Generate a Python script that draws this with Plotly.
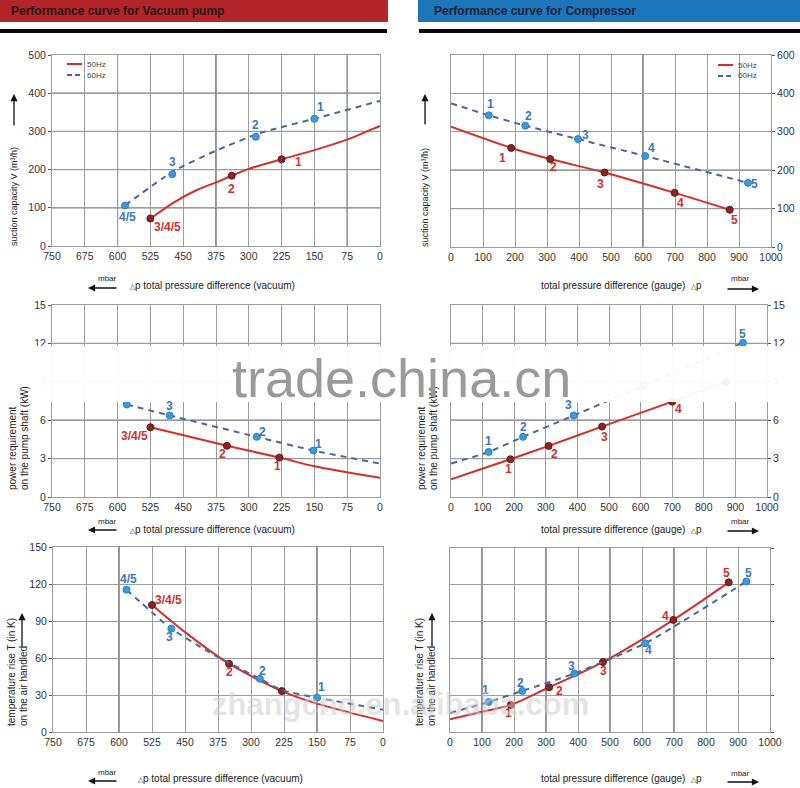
import plotly.graph_objects as go

W, H = 800, 788

# ---------------- data ----------------
vac_ticks = [750, 675, 600, 525, 450, 375, 300, 225, 150, 75, 0]
gauge_ticks = [0, 100, 200, 300, 400, 500, 600, 700, 800, 900, 1000]
cap_ticks = [0, 100, 200, 300, 400, 500]
cap_ticktext_left = ["0", "100", "200", "300", "400", "500"]
cap_ticktext_right = ["0", "100", "200", "300", "400", "600"]
pow_ticks = [0, 3, 6, 9, 12, 15]
temp_ticks = [0, 30, 60, 90, 120, 150]

# Vacuum pump - suction capacity (m3/h) vs vacuum (mbar)
vs50_curve_x = [525, 470, 420, 376, 339, 300, 225, 150, 74, 30, 0]
vs50_curve_y = [72, 115, 146, 166, 184, 202, 227, 251, 279, 300, 314]
vs50_pts_x = [525, 339, 225]
vs50_pts_y = [72, 184, 227]
vs50_labels = ["3/4/5", "2", "1"]
vs60_curve_x = [583, 475, 376, 284, 246, 150, 0]
vs60_curve_y = [106, 194, 249, 292, 305, 333, 380]
vs60_pts_x = [583, 475, 284, 150]
vs60_pts_y = [106, 188, 286, 333]
vs60_labels = ["4/5", "3", "2", "1"]

# Compressor - suction capacity vs gauge pressure
cs50_curve_x = [0, 188, 310, 480, 699, 871]
cs50_curve_y = [313, 258, 229, 194, 141, 97]
cs50_pts_x = [188, 310, 480, 699, 871]
cs50_pts_y = [258, 229, 194, 141, 97]
cs50_labels = ["1", "2", "3", "4", "5"]
cs60_curve_x = [0, 118, 232, 397, 607, 928]
cs60_curve_y = [374, 343, 316, 281, 237, 167]
cs60_pts_x = [118, 232, 397, 607, 928]
cs60_pts_y = [343, 316, 281, 237, 167]
cs60_labels = ["1", "2", "3", "4", "5"]

# Vacuum pump - power requirement (kW)
vp50_curve_x = [525, 350, 230, 150, 0]
vp50_curve_y = [5.45, 4.0, 3.08, 2.4, 1.5]
vp50_pts_x = [525, 350, 230]
vp50_pts_y = [5.45, 4.0, 3.08]
vp50_labels = ["3/4/5", "2", "1"]
vp60_curve_x = [579, 481, 282, 152, 0]
vp60_curve_y = [7.23, 6.37, 4.70, 3.63, 2.61]
vp60_pts_x = [579, 481, 282, 152]
vp60_pts_y = [7.23, 6.37, 4.70, 3.63]
vp60_labels = ["4/5", "3", "2", "1"]

# Compressor - power requirement (kW)
cp50_curve_x = [0, 188, 309, 478, 700, 870]
cp50_curve_y = [1.38, 2.95, 3.99, 5.5, 7.45, 9.0]
cp50_pts_x = [188, 309, 478, 700, 870]
cp50_pts_y = [2.95, 3.99, 5.5, 7.45, 9.0]
cp50_labels = ["1", "2", "3", "4", "5"]
cp60_curve_x = [0, 119, 228, 388, 610, 924]
cp60_curve_y = [2.61, 3.52, 4.70, 6.37, 8.7, 12.05]
cp60_pts_x = [119, 228, 388, 610, 924]
cp60_pts_y = [3.52, 4.70, 6.37, 8.7, 12.05]
cp60_labels = ["1", "2", "3", "4", "5"]

# Vacuum pump - temperature rise (K)
vt50_curve_x = [525, 450, 350, 230, 150, 75, 0]
vt50_curve_y = [103, 81, 55.4, 33.2, 23, 15.7, 8.9]
vt50_pts_x = [525, 350, 230]
vt50_pts_y = [103, 55.4, 33.2]
vt50_labels = ["3/4/5", "2", ""]
vt60_curve_x = [583, 481, 396, 350, 280, 230, 150, 0]
vt60_curve_y = [115.4, 83.8, 65, 56, 43.2, 34, 27.8, 18.1]
vt60_pts_x = [583, 481, 280, 150]
vt60_pts_y = [115.4, 83.8, 43.2, 27.8]
vt60_labels = ["4/5", "3", "2", "1"]

# Compressor - temperature rise (K)
ct50_curve_x = [0, 100, 190, 310, 478, 698, 871]
ct50_curve_y = [10.4, 16.5, 22, 36.5, 57, 91.4, 122]
ct50_pts_x = [190, 310, 478, 698, 871]
ct50_pts_y = [22, 36.5, 57, 91.4, 122]
ct50_labels = ["1", "2", "3", "4", "5"]
ct60_curve_x = [0, 121, 226, 389, 610, 926]
ct60_curve_y = [15.5, 24.5, 33.5, 47.7, 72.3, 122.7]
ct60_pts_x = [121, 226, 389, 610, 926]
ct60_pts_y = [24.5, 33.5, 47.7, 72.3, 122.7]
ct60_labels = ["1", "2", "3", "4", "5"]

# ---------------- styles / layout ----------------
RED = "#d3302b"
RED_PT = "#8c2626"
BLUE_LINE = "#4a6796"
BLUE_PT = "#3b9ade"
RED_TXT = "#d3302b"
BLUE_TXT = "#3c76bb"
GRID = "#9c9c9c"
DARK = "#222222"
FONT = "Liberation Sans, Arial, sans-serif"

def PX(p):
    return p / W

def PY(p):
    return 1 - p / H

panels = {
    1: dict(x0=52, x1=380, y0=55, y1=246, xr=[750, 0], xt=vac_ticks, yr=[0, 500], yt=cap_ticks,
            ytt=cap_ticktext_left, side="left", labels=True,
            dv=[600, 375, 75], dh=[100, 200, 300, 400]),
    2: dict(x0=451, x1=771, y0=55, y1=247, xr=[0, 1000], xt=gauge_ticks, yr=[0, 500], yt=cap_ticks,
            ytt=cap_ticktext_right, side="right", labels=True, dv=[600], dh=[100, 200]),
    3: dict(x0=52, x1=380, y0=305, y1=497, xr=[750, 0], xt=vac_ticks, yr=[0, 15], yt=pow_ticks,
            ytt=[str(v) for v in pow_ticks], side="left", labels=True, dv=[], dh=[3, 6, 12]),
    4: dict(x0=451, x1=767, y0=305, y1=497, xr=[0, 1000], xt=gauge_ticks, yr=[0, 15], yt=pow_ticks,
            ytt=[str(v) for v in pow_ticks], side="right", labels=True, dv=[], dh=[3, 6, 12]),
    5: dict(x0=53, x1=383, y0=547, y1=732, xr=[750, 0], xt=vac_ticks, yr=[0, 150], yt=temp_ticks,
            ytt=[str(v) for v in temp_ticks], side="left", labels=True, dv=[600, 150], dh=[]),
    6: dict(x0=450, x1=770, y0=548, y1=732, xr=[0, 1000], xt=gauge_ticks, yr=[0, 150], yt=temp_ticks,
            ytt=[str(v) for v in temp_ticks], side="right", labels=False, dv=[100, 300, 500, 700], dh=[]),
}

series = {
    1: [(vs50_curve_x, vs50_curve_y, vs50_pts_x, vs50_pts_y, vs50_labels, "r"),
        (vs60_curve_x, vs60_curve_y, vs60_pts_x, vs60_pts_y, vs60_labels, "b")],
    2: [(cs50_curve_x, cs50_curve_y, cs50_pts_x, cs50_pts_y, cs50_labels, "r"),
        (cs60_curve_x, cs60_curve_y, cs60_pts_x, cs60_pts_y, cs60_labels, "b")],
    3: [(vp50_curve_x, vp50_curve_y, vp50_pts_x, vp50_pts_y, vp50_labels, "r"),
        (vp60_curve_x, vp60_curve_y, vp60_pts_x, vp60_pts_y, vp60_labels, "b")],
    4: [(cp50_curve_x, cp50_curve_y, cp50_pts_x, cp50_pts_y, cp50_labels, "r"),
        (cp60_curve_x, cp60_curve_y, cp60_pts_x, cp60_pts_y, cp60_labels, "b")],
    5: [(vt50_curve_x, vt50_curve_y, vt50_pts_x, vt50_pts_y, vt50_labels, "r"),
        (vt60_curve_x, vt60_curve_y, vt60_pts_x, vt60_pts_y, vt60_labels, "b")],
    6: [(ct50_curve_x, ct50_curve_y, ct50_pts_x, ct50_pts_y, ct50_labels, "r"),
        (ct60_curve_x, ct60_curve_y, ct60_pts_x, ct60_pts_y, ct60_labels, "b")],
}

# label offsets in pixels (dx, dy-down) for each point label
offsets = {
    (1, "r"): [(17, 9), (0, 13), (17, 3)],
    (1, "b"): [(2, 11), (0, -12), (0, -12), (6, -12)],
    (2, "r"): [(-9, 10), (3, 8), (-4, 12), (6, 10), (5, 10)],
    (2, "b"): [(2, -11), (3, -10), (7, -4), (6, -8), (7, 1)],
    (3, "r"): [(-16, 9), (-4, 8), (-2, 8)],
    (3, "b"): [(-2, -12), (0, -9), (6, -5), (5, -7)],
    (4, "r"): [(-2, 10), (6, 8), (2, 10), (6, 7), (6, 8)],
    (4, "b"): [(0, -11), (0, -10), (-5, -10), (0, -10), (0, -9)],
    (5, "r"): [(16, -5), (0, 8), (0, 8)],
    (5, "b"): [(2, -11), (-2, 8), (3, -8), (4, -11)],
    (6, "r"): [(-2, 8), (10, 4), (1, 9), (-8, -4), (-2, -9)],
    (6, "b"): [(-3, -12), (-2, -8), (-3, -7), (3, 7), (2, -8)],
}

BAND_TOP, BAND_BOT = 346, 402

fig = go.Figure()
layout = dict(width=W, height=H, margin=dict(l=0, r=0, t=0, b=0, pad=0, autoexpand=False),
              autosize=False,
              paper_bgcolor="white", plot_bgcolor="white", showlegend=False,
              font=dict(family=FONT, color="#333"))
shapes = []
annotations = []

for n, p in panels.items():
    sfx = "" if n == 1 else str(n)
    xa = dict(domain=[PX(p["x0"]), PX(p["x1"])], range=p["xr"], anchor="y" + sfx,
              tickvals=p["xt"], ticktext=[str(v) for v in p["xt"]], automargin=False,
              showgrid=True, gridcolor=GRID, gridwidth=1, zeroline=False,
              showline=True, linecolor=GRID, mirror=True,
              ticks="", tickfont=dict(size=10.5, color="#333", family=FONT), ticklen=3)
    ya = dict(domain=[PY(p["y1"]), PY(p["y0"])], range=p["yr"], anchor="x" + sfx,
              tickvals=p["yt"], ticktext=p["ytt"], side=p["side"], automargin=False,
              showgrid=True, gridcolor=GRID, gridwidth=1, zeroline=False,
              showline=True, linecolor=GRID, mirror=True,
              ticks="outside", ticklen=3, tickcolor="#555",
              showticklabels=p["labels"],
              tickfont=dict(size=10.5, color="#333", family=FONT))
    layout["xaxis" + sfx] = xa
    layout["yaxis" + sfx] = ya

    for v in p["dv"]:
        shapes.append(dict(type="line", xref="x" + sfx, yref="y" + sfx + " domain",
                           x0=v, x1=v, y0=0, y1=1, line=dict(color=DARK, width=1), layer="below"))
    for v in p["dh"]:
        shapes.append(dict(type="line", xref="x" + sfx + " domain", yref="y" + sfx,
                           x0=0, x1=1, y0=v, y1=v, line=dict(color=DARK, width=1), layer="below"))

    ylo, yhi = p["yr"]
    for cx, cy, ptx, pty, labs, col in series[n]:
        if col == "r":
            fig.add_trace(go.Scatter(x=cx, y=cy, xaxis="x" + sfx, yaxis="y" + sfx, mode="lines",
                                     line=dict(color=RED, width=2, shape="spline", smoothing=0.8),
                                     hoverinfo="skip"))
            fig.add_trace(go.Scatter(x=ptx, y=pty, xaxis="x" + sfx, yaxis="y" + sfx, mode="markers",
                                     marker=dict(color=RED_PT, size=7, line=dict(color="#5e1515", width=1)),
                                     hoverinfo="skip"))
            tcol = RED_TXT
        else:
            fig.add_trace(go.Scatter(x=cx, y=cy, xaxis="x" + sfx, yaxis="y" + sfx, mode="lines",
                                     line=dict(color=BLUE_LINE, width=2, dash="6px,5px",
                                               shape="spline", smoothing=0.6),
                                     hoverinfo="skip"))
            fig.add_trace(go.Scatter(x=ptx, y=pty, xaxis="x" + sfx, yaxis="y" + sfx, mode="markers",
                                     marker=dict(color=BLUE_PT, size=7, line=dict(color="#2f7fbf", width=1)),
                                     hoverinfo="skip"))
            tcol = BLUE_TXT
        for (xv, yv, lab, (dx, dy)) in zip(ptx, pty, labs, offsets[(n, col)]):
            if not lab:
                continue
            lpy = p["y1"] - (yv - ylo) / (yhi - ylo) * (p["y1"] - p["y0"]) + dy
            if BAND_TOP - 4 < lpy < BAND_BOT + 2:
                continue  # hidden by the watermark band
            annotations.append(dict(x=xv, y=yv, xref="x" + sfx, yref="y" + sfx, text=lab,
                                    showarrow=False, xshift=dx, yshift=-dy,
                                    font=dict(size=12, color=tcol, family=FONT, weight="bold")))

# ---------- header banners ----------
shapes += [
    dict(type="rect", xref="paper", yref="paper", x0=PX(0), x1=PX(388), y0=PY(22), y1=PY(0),
         fillcolor="#b42529", line=dict(width=0)),
    dict(type="rect", xref="paper", yref="paper", x0=PX(0), x1=PX(387), y0=PY(33), y1=PY(29),
         fillcolor="#0a0a0a", line=dict(width=0)),
    dict(type="rect", xref="paper", yref="paper", x0=PX(418), x1=PX(800), y0=PY(22), y1=PY(0),
         fillcolor="#1d75ba", line=dict(width=0)),
    dict(type="rect", xref="paper", yref="paper", x0=PX(419), x1=PX(800), y0=PY(33), y1=PY(29),
         fillcolor="#0a0a0a", line=dict(width=0)),
]
annotations += [
    dict(x=PX(9), y=PY(11), xref="paper", yref="paper", xanchor="left", yanchor="middle",
         text="<b>Performance curve for Vacuum pump</b>", showarrow=False,
         font=dict(size=12, color="#2b1414", family=FONT)),
    dict(x=PX(432), y=PY(11), xref="paper", yref="paper", xanchor="left", yanchor="middle",
         text="<b>Performance curve for Compressor</b>", showarrow=False,
         font=dict(size=12, color="#12233f", family=FONT)),
]

# ---------- legends ----------
for lx, ly1, ly2 in [(67, 64, 75), (718, 65, 76)]:
    shapes.append(dict(type="line", xref="paper", yref="paper", x0=PX(lx), x1=PX(lx + 15),
                       y0=PY(ly1), y1=PY(ly1), line=dict(color=RED, width=2)))
    shapes.append(dict(type="line", xref="paper", yref="paper", x0=PX(lx), x1=PX(lx + 15),
                       y0=PY(ly2), y1=PY(ly2), line=dict(color=BLUE_LINE, width=2, dash="5px,3px")))
    annotations.append(dict(x=PX(lx + 18), y=PY(ly1), xref="paper", yref="paper", xanchor="left",
                            yanchor="middle", text="50Hz", showarrow=False,
                            font=dict(size=8, color="#444", family=FONT)))
    annotations.append(dict(x=PX(lx + 18), y=PY(ly2), xref="paper", yref="paper", xanchor="left",
                            yanchor="middle", text="60Hz", showarrow=False,
                            font=dict(size=8, color="#444", family=FONT)))

# ---------- axis titles ----------
TRI = "<span style='font-size:7px'>△</span>"

def txt(x, y, s, size=10, xanchor="left", yanchor="middle", angle=0):
    annotations.append(dict(x=PX(x), y=PY(y), xref="paper", yref="paper", xanchor=xanchor,
                            yanchor=yanchor, text=s, showarrow=False, textangle=angle,
                            font=dict(size=size, color="#222", family=FONT)))

def arrow(xh, yh, xt, yt):
    annotations.append(dict(x=PX(xh), y=PY(yh), xref="paper", yref="paper", ax=xt - xh, ay=yt - yh,
                            axref="pixel", ayref="pixel", text="", showarrow=True,
                            arrowhead=2, arrowsize=1.1, arrowwidth=1.3, arrowcolor="#111"))

for (ym, ya_, yt_) in [(278, 288, 285), (521, 530, 529), (772, 781, 778)]:
    txt(107, ym, "mbar", size=8, xanchor="center")
    arrow(88, ya_, 118, ya_)
    txt(128 if ym < 700 else 136, yt_, TRI + "p total pressure difference (vacuum)")
for (ym, ya_, yt_) in [(279, 289, 285), (521, 531, 529), (773, 782, 778)]:
    txt(539, yt_, "total pressure difference (gauge)  " + TRI + "p")
    txt(740, ym, "mbar", size=8, xanchor="center")
    arrow(759, ya_, 726, ya_)

# y titles
txt(14, 197, "suction capacity V (m³/h)", size=9, xanchor="center", angle=-90)
arrow(14, 94, 14, 127)
txt(425, 198, "suction capacity V (m³/h)", size=9, xanchor="center", angle=-90)
arrow(425, 94, 425, 126)

txt(12, 492, "power requirement", size=10, xanchor="center", yanchor="bottom", angle=-90)
txt(24, 492, "on the pump shaft (kW)", size=10, xanchor="center", yanchor="bottom", angle=-90)
txt(421, 492, "power requirement", size=10, xanchor="center", yanchor="bottom", angle=-90)
txt(433, 492, "on the pump shaft (kW)", size=10, xanchor="center", yanchor="bottom", angle=-90)

txt(11, 728, "temperature rise T (in K)", size=10, xanchor="center", yanchor="bottom", angle=-90)
txt(23, 728, "on the air handled", size=10, xanchor="center", yanchor="bottom", angle=-90)
arrow(22, 613, 22, 648)
txt(419, 728, "temperature rise T (in K)", size=10, xanchor="center", yanchor="bottom", angle=-90)
txt(431, 728, "on the air handled", size=10, xanchor="center", yanchor="bottom", angle=-90)
arrow(432, 613, 432, 648)

# ---------- watermark band ----------
shapes.append(dict(type="rect", xref="paper", yref="paper", x0=0, x1=1, y0=PY(BAND_BOT), y1=PY(BAND_TOP),
                   fillcolor="rgba(255,255,255,0.94)", line=dict(width=0), layer="above"))
annotations.append(dict(x=PX(402), y=PY(378), xref="paper", yref="paper", xanchor="center",
                        yanchor="middle", text="trade.china.cn", showarrow=False,
                        font=dict(size=54, color="#9a9a9a", family=FONT)))
annotations.append(dict(x=PX(400), y=PY(704), xref="paper", yref="paper", xanchor="center",
                        yanchor="middle", text="<b>zhangcno.en.alibaba.com</b>", showarrow=False,
                        font=dict(size=31, color="rgba(205,205,205,0.55)", family=FONT)))

layout["shapes"] = shapes
layout["annotations"] = annotations
fig.update_layout(**layout)
fig.write_html("out.html", config={"responsive": False, "displayModeBar": False},
               post_script="document.documentElement.style.margin='0';"
                           "document.body.style.margin='0';document.body.style.padding='0';"
                           "document.body.style.overflow='hidden';")
